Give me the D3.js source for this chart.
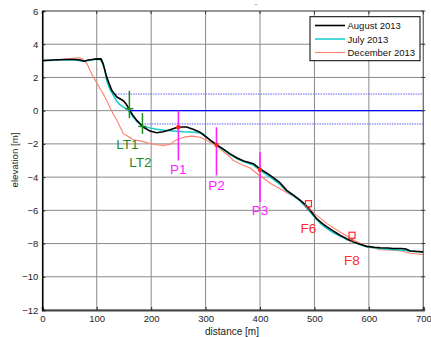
<!DOCTYPE html>
<html>
<head>
<meta charset="utf-8">
<script src="https://cdn.jsdelivr.net/npm/d3@7"></script>
<style>
  html, body { margin: 0; padding: 0; background: #fff; }
  svg { display: block; font-family: Arial, "Liberation Sans", sans-serif; }
</style>
</head>
<body>
<svg id="chart" width="431" height="337"></svg>
<script>
// Cross-shore profiles: distance [m] vs elevation [m]
const augDist = [0, 20, 40, 60, 70, 76, 85, 95, 108, 112, 118, 123, 128, 137, 149, 155, 161, 167, 174, 186, 198, 210, 222, 235, 247, 256, 265, 277, 290, 305, 319, 332, 345, 358, 370, 388, 400, 412, 425, 437, 449, 462, 474, 483, 492, 504, 513, 523, 535, 547, 560, 572, 585, 596, 610, 621, 635, 645, 660, 668, 676, 690, 700];
const augElev = [3.02, 3.05, 3.08, 3.08, 3.05, 2.98, 3.05, 3.1, 3.12, 2.8, 2.05, 1.6, 1.2, 0.82, 0.6, 0.35, 0.0, -0.3, -0.6, -1.0, -1.23, -1.33, -1.27, -1.15, -1.02, -0.98, -0.98, -1.12, -1.3, -1.68, -2.03, -2.3, -2.6, -2.85, -3.03, -3.2, -3.5, -3.75, -4.05, -4.35, -4.8, -5.1, -5.4, -5.65, -6.0, -6.5, -6.75, -7.0, -7.25, -7.5, -7.72, -7.9, -8.05, -8.17, -8.22, -8.25, -8.27, -8.3, -8.3, -8.33, -8.45, -8.48, -8.5];

const julDist = [0, 20, 40, 60, 75, 85, 95, 106, 110, 115, 118, 124, 130, 137, 143, 149, 157, 165, 175, 185, 195, 210, 225, 240, 260, 280, 295, 305, 319, 332, 345, 358, 370, 388, 400, 412, 425, 437, 449, 462, 474, 483, 492, 504, 513, 523, 535, 547, 560, 572, 585, 596, 610, 621, 635, 650, 665, 676, 690, 700];
const julElev = [3.0, 3.03, 3.06, 3.05, 2.98, 3.02, 3.08, 3.1, 2.9, 2.43, 1.83, 1.3, 0.95, 0.55, 0.35, 0.22, 0.05, -0.3, -0.7, -0.95, -1.02, -1.12, -1.18, -1.22, -1.27, -1.3, -1.38, -1.68, -2.05, -2.35, -2.65, -2.9, -3.08, -3.28, -3.6, -3.85, -4.15, -4.45, -4.85, -5.15, -5.45, -5.75, -6.1, -6.55, -6.85, -7.1, -7.35, -7.55, -7.78, -7.93, -8.08, -8.2, -8.25, -8.3, -8.35, -8.38, -8.4, -8.45, -8.5, -8.52];

const decDist = [0, 20, 40, 55, 69, 75, 82, 88, 94, 106, 112, 118, 124, 130, 137, 143, 149, 155, 167, 180, 195, 210, 222, 235, 244, 253, 262, 275, 290, 302, 317, 330, 345, 351, 370, 382, 400, 406, 420, 437, 455, 468, 478, 486, 495, 504, 523, 547, 572, 596, 621, 645, 660, 676, 700];
const decElev = [3.0, 3.03, 3.1, 3.15, 3.19, 3.1, 2.83, 2.4, 2.02, 1.33, 1.0, 0.62, 0.22, -0.18, -0.58, -0.99, -1.39, -1.5, -1.75, -1.82, -1.95, -2.05, -2.09, -2.02, -1.8, -1.68, -1.58, -1.53, -1.6, -1.79, -2.03, -2.4, -2.79, -3.0, -3.3, -3.45, -3.95, -4.05, -4.4, -4.7, -5.05, -5.25, -5.5, -5.75, -6.05, -6.3, -6.8, -7.3, -7.8, -8.17, -8.37, -8.4, -8.45, -8.58, -8.66];

const seriesNames = ["August 2013", "July 2013", "December 2013"];
const seriesColors = ["#000000", "#11cccc", "#ff7f6e"];
const seriesWidths = [1.6, 1.5, 1.1];

// Water levels: start distance, elevation
const levelStart = [130, 158, 183];
const levelElev = [1.0, 0.0, -0.8];
const levelDashed = [true, false, true];

// Longshore trough markers
const ltNames = ["LT1", "LT2"];
const ltDist = [160, 184];
const ltTop = [1.2, -0.15];
const ltBottom = [-0.45, -1.4];
const ltCross = [0.12, -0.95];
const ltLabelElev = [-2.05, -3.1];

// Profile points
const pNames = ["P1", "P2", "P3"];
const pDist = [250, 320, 400];
const pTop = [0.0, -1.0, -2.5];
const pBottom = [-3.0, -3.9, -5.5];
const pPointElev = [-1.0, -2.05, -3.55];
const pLabelElev = [-3.55, -4.5, -6.0];

// Sampling stations
const fNames = ["F6", "F8"];
const fDist = [489, 569];
const fSquareElev = [-5.6, -7.5];
const fCrossElev = [-5.9, -7.8];
const fLabelElev = [-7.07, -9.0];

const xTicks = [0, 100, 200, 300, 400, 500, 600, 700];
const yTicks = [-12, -10, -8, -6, -4, -2, 0, 2, 4, 6];

const svg = d3.select("#chart");
const m = { left: 42.3, right: 423.3, top: 11, bottom: 310 };
const x = d3.scaleLinear().domain([0, 700]).range([m.left, m.right]);
const y = d3.scaleLinear().domain([-12, 6]).range([m.bottom, m.top]);

// grid
const grid = svg.append("g");
grid.selectAll("line.vx").data(xTicks).join("line")
  .attr("x1", d => x(d)).attr("x2", d => x(d))
  .attr("y1", m.top).attr("y2", m.bottom)
  .attr("stroke", "#8a8a8a").attr("stroke-width", 1);
grid.selectAll("line.hy").data(yTicks).join("line")
  .attr("x1", m.left).attr("x2", m.right)
  .attr("y1", d => y(d)).attr("y2", d => y(d))
  .attr("stroke", "#8a8a8a").attr("stroke-width", 1);

// water levels
levelElev.forEach((e, i) => {
  svg.append("line")
    .attr("x1", x(levelStart[i])).attr("x2", m.right)
    .attr("y1", y(e)).attr("y2", y(e))
    .attr("stroke", levelDashed[i] ? "#5f5ff5" : "#0000ff")
    .attr("stroke-width", levelDashed[i] ? 1 : 1.3)
    .attr("stroke-dasharray", levelDashed[i] ? "1.5,1" : null);
});

// profiles
const profiles = [
  d3.zip(augDist, augElev),
  d3.zip(julDist, julElev),
  d3.zip(decDist, decElev)
];
const line = d3.line().x(d => x(d[0])).y(d => y(d[1]));
[2, 1, 0].forEach(i => {
  svg.append("path").datum(profiles[i])
    .attr("d", line).attr("fill", "none")
    .attr("stroke", seriesColors[i]).attr("stroke-width", seriesWidths[i])
    .attr("stroke-linejoin", "round");
});

// LT markers
const green = "#1f8a1f";
ltNames.forEach((n, i) => {
  const g = svg.append("g");
  g.append("line").attr("x1", x(ltDist[i])).attr("x2", x(ltDist[i]))
    .attr("y1", y(ltTop[i])).attr("y2", y(ltBottom[i]))
    .attr("stroke", green).attr("stroke-width", 1.5);
  g.append("line").attr("x1", x(ltDist[i]) - 4).attr("x2", x(ltDist[i]) + 4)
    .attr("y1", y(ltCross[i])).attr("y2", y(ltCross[i]))
    .attr("stroke", green).attr("stroke-width", 1.5);
  g.append("text").attr("x", x(ltDist[i]) - 2).attr("y", y(ltLabelElev[i]))
    .attr("text-anchor", "middle").attr("dominant-baseline", "central")
    .attr("font-size", 13.5).attr("fill", green).text(n);
});

// P markers
const magenta = "#ff22ff";
pNames.forEach((n, i) => {
  const g = svg.append("g");
  g.append("line").attr("x1", x(pDist[i])).attr("x2", x(pDist[i]))
    .attr("y1", y(pTop[i])).attr("y2", y(pBottom[i]))
    .attr("stroke", magenta).attr("stroke-width", 1.6);
  g.append("circle").attr("cx", x(pDist[i])).attr("cy", y(pPointElev[i]))
    .attr("r", 2.2).attr("fill", "#ff2020");
  g.append("text").attr("x", x(pDist[i])).attr("y", y(pLabelElev[i]))
    .attr("text-anchor", "middle").attr("dominant-baseline", "central")
    .attr("font-size", 13.5).attr("fill", magenta).text(n);
});

// F markers
const red = "#ff2a2a";
fNames.forEach((n, i) => {
  const g = svg.append("g");
  const cx = x(fDist[i]);
  g.append("rect").attr("x", cx - 3).attr("y", y(fSquareElev[i]) - 3)
    .attr("width", 6).attr("height", 6)
    .attr("fill", "none").attr("stroke", red).attr("stroke-width", 1.2);
  const cy = y(fCrossElev[i]);
  g.append("path").attr("d", `M${cx - 2},${cy - 2}L${cx + 2},${cy + 2}M${cx - 2},${cy + 2}L${cx + 2},${cy - 2}`)
    .attr("stroke", red).attr("stroke-width", 1);
  g.append("text").attr("x", cx).attr("y", y(fLabelElev[i]))
    .attr("text-anchor", "middle").attr("dominant-baseline", "central")
    .attr("font-size", 13.5).attr("fill", red).text(n);
});

// top and right box edges with ticks
svg.append("line").attr("x1", m.left).attr("x2", m.right).attr("y1", m.top).attr("y2", m.top)
  .attr("stroke", "#666").attr("stroke-width", 1);
svg.append("line").attr("x1", m.right).attr("x2", m.right).attr("y1", m.top).attr("y2", m.bottom)
  .attr("stroke", "#666").attr("stroke-width", 1);
svg.selectAll("line.rt").data(yTicks).join("line")
  .attr("x1", m.right - 2).attr("x2", m.right + 2).attr("y1", d => y(d)).attr("y2", d => y(d))
  .attr("stroke", "#333");
svg.selectAll("line.tt").data(xTicks).join("line")
  .attr("x1", d => x(d)).attr("x2", d => x(d)).attr("y1", m.top).attr("y2", m.top + 3)
  .attr("stroke", "#333");

// axes
const xAxis = d3.axisBottom(x).tickValues(xTicks).tickSize(-3).tickPadding(5);
const yAxis = d3.axisLeft(y).tickValues(yTicks).tickSize(-3).tickPadding(4);
const gx = svg.append("g").attr("transform", `translate(0,${m.bottom})`).call(xAxis);
const gy = svg.append("g").attr("transform", `translate(${m.left},0)`).call(yAxis);
gx.select(".domain").attr("stroke", "#444").attr("stroke-width", 2);
gy.select(".domain").attr("stroke", "#000").attr("stroke-width", 1.5);
[gx, gy].forEach(g => {
  g.selectAll(".tick line").attr("stroke", "#222");
  g.selectAll("text").attr("font-size", 9.5).attr("fill", "#222")
    .attr("font-family", "Arial, 'Liberation Sans', sans-serif");
});

// axis titles
svg.append("text").attr("x", 232).attr("y", 331)
  .attr("text-anchor", "middle").attr("dominant-baseline", "central")
  .attr("font-size", 10).attr("fill", "#222").text("distance [m]");
svg.append("text").attr("transform", "translate(14,160) rotate(-90)")
  .attr("text-anchor", "middle").attr("dominant-baseline", "central")
  .attr("font-size", 9.7).attr("fill", "#222").text("elevation [m]");
svg.append("text").attr("x", 256).attr("y", 6)
  .attr("text-anchor", "middle").attr("font-size", 7).attr("fill", "#444").text("-");

// legend
const lg = svg.append("g");
lg.append("rect").attr("x", 310).attr("y", 16.7).attr("width", 110).attr("height", 44)
  .attr("fill", "#fff").attr("stroke", "#000").attr("stroke-width", 1);
seriesNames.forEach((n, i) => {
  const ly = 25.5 + i * 13.5;
  lg.append("line").attr("x1", 315).attr("x2", 345).attr("y1", ly).attr("y2", ly)
    .attr("stroke", seriesColors[i]).attr("stroke-width", seriesWidths[i]);
  lg.append("text").attr("x", 347.5).attr("y", ly).attr("dominant-baseline", "central")
    .attr("font-size", 9.5).attr("fill", "#111").text(n);
});
</script>
</body>
</html>
